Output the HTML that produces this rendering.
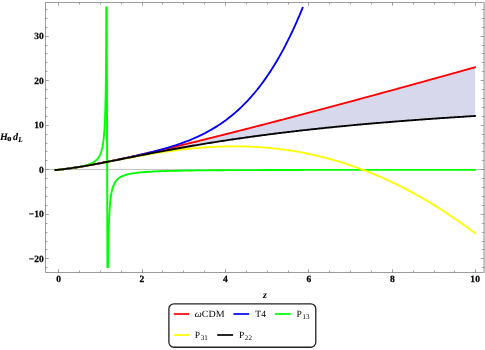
<!DOCTYPE html>
<html><head><meta charset="utf-8"><style>
html,body{margin:0;padding:0;background:#fff;}
svg{display:block;font-family:"Liberation Serif",serif;}
.t{filter:grayscale(1);}
text{text-rendering:geometricPrecision;}
</style></head><body>
<svg width="485" height="350" viewBox="0 0 485 350">
<rect width="485" height="350" fill="#fff"/>
<path d="M54.48 170.16 L56.59 169.96 L58.71 169.74 L60.82 169.51 L62.93 169.26 L65.05 169.00 L67.16 168.72 L69.28 168.43 L71.39 168.13 L73.50 167.82 L75.62 167.50 L77.73 167.17 L79.84 166.82 L81.96 166.47 L84.07 166.12 L86.19 165.75 L88.30 165.38 L90.41 165.00 L92.53 164.61 L94.64 164.22 L96.75 163.82 L98.87 163.42 L100.98 163.01 L103.10 162.60 L105.21 162.18 L107.32 161.76 L109.44 161.33 L111.55 160.90 L113.67 160.46 L115.78 160.03 L117.89 159.58 L120.01 159.14 L122.12 158.69 L124.23 158.24 L126.35 157.78 L128.46 157.32 L130.58 156.86 L132.69 156.40 L134.80 155.93 L136.92 155.47 L139.03 154.99 L141.14 154.52 L143.26 154.04 L145.37 153.57 L147.49 153.09 L149.60 152.60 L151.71 152.12 L153.83 151.63 L155.94 151.14 L158.05 150.65 L160.17 150.16 L162.28 149.67 L164.40 149.17 L166.51 148.68 L168.62 148.18 L170.74 147.68 L172.85 147.17 L174.97 146.67 L177.08 146.17 L179.19 145.66 L181.31 145.15 L183.42 144.64 L185.53 144.13 L187.65 143.62 L189.76 143.11 L191.88 142.59 L193.99 142.07 L196.10 141.56 L198.22 141.04 L200.33 140.52 L202.44 140.00 L204.56 139.48 L206.67 138.95 L208.79 138.43 L210.90 137.91 L213.01 137.38 L215.13 136.85 L217.24 136.32 L219.36 135.80 L221.47 135.26 L223.58 134.73 L225.70 134.20 L227.81 133.67 L229.92 133.13 L232.04 132.60 L234.15 132.06 L236.27 131.53 L238.38 130.99 L240.49 130.45 L242.61 129.91 L244.72 129.37 L246.83 128.83 L248.95 128.29 L251.06 127.75 L253.18 127.21 L255.29 126.66 L257.40 126.12 L259.52 125.57 L261.63 125.03 L263.74 124.48 L265.86 123.93 L267.97 123.38 L270.09 122.83 L272.20 122.28 L274.31 121.73 L276.43 121.18 L278.54 120.63 L280.66 120.08 L282.77 119.53 L284.88 118.97 L287.00 118.42 L289.11 117.86 L291.22 117.31 L293.34 116.75 L295.45 116.20 L297.57 115.64 L299.68 115.08 L301.79 114.52 L303.91 113.96 L306.02 113.40 L308.13 112.84 L310.25 112.28 L312.36 111.72 L314.48 111.16 L316.59 110.60 L318.70 110.04 L320.82 109.47 L322.93 108.91 L325.04 108.34 L327.16 107.78 L329.27 107.21 L331.39 106.65 L333.50 106.08 L335.61 105.52 L337.73 104.95 L339.84 104.38 L341.96 103.81 L344.07 103.24 L346.18 102.67 L348.30 102.11 L350.41 101.54 L352.52 100.96 L354.64 100.39 L356.75 99.82 L358.87 99.25 L360.98 98.68 L363.09 98.11 L365.21 97.53 L367.32 96.96 L369.43 96.39 L371.55 95.81 L373.66 95.24 L375.78 94.66 L377.89 94.09 L380.00 93.51 L382.12 92.93 L384.23 92.36 L386.34 91.78 L388.46 91.20 L390.57 90.63 L392.69 90.05 L394.80 89.47 L396.91 88.89 L399.03 88.31 L401.14 87.73 L403.26 87.15 L405.37 86.57 L407.48 85.99 L409.60 85.41 L411.71 84.83 L413.82 84.25 L415.94 83.66 L418.05 83.08 L420.17 82.50 L422.28 81.92 L424.39 81.33 L426.51 80.75 L428.62 80.16 L430.73 79.58 L432.85 79.00 L434.96 78.41 L437.08 77.83 L439.19 77.24 L441.30 76.65 L443.42 76.07 L445.53 75.48 L447.65 74.89 L449.76 74.31 L451.87 73.72 L453.99 73.13 L456.10 72.54 L458.21 71.96 L460.33 71.37 L462.44 70.78 L464.56 70.19 L466.67 69.60 L468.78 69.01 L470.90 68.42 L473.01 67.83 L475.12 67.24 L475.12 115.97 L473.01 116.10 L470.90 116.23 L468.78 116.36 L466.67 116.49 L464.56 116.62 L462.44 116.76 L460.33 116.89 L458.21 117.03 L456.10 117.17 L453.99 117.30 L451.87 117.44 L449.76 117.58 L447.65 117.72 L445.53 117.86 L443.42 118.01 L441.30 118.15 L439.19 118.29 L437.08 118.44 L434.96 118.59 L432.85 118.73 L430.73 118.88 L428.62 119.03 L426.51 119.18 L424.39 119.34 L422.28 119.49 L420.17 119.64 L418.05 119.80 L415.94 119.95 L413.82 120.11 L411.71 120.27 L409.60 120.43 L407.48 120.59 L405.37 120.75 L403.26 120.92 L401.14 121.08 L399.03 121.25 L396.91 121.42 L394.80 121.58 L392.69 121.75 L390.57 121.92 L388.46 122.10 L386.34 122.27 L384.23 122.44 L382.12 122.62 L380.00 122.80 L377.89 122.98 L375.78 123.16 L373.66 123.34 L371.55 123.52 L369.43 123.71 L367.32 123.89 L365.21 124.08 L363.09 124.27 L360.98 124.46 L358.87 124.65 L356.75 124.84 L354.64 125.04 L352.52 125.23 L350.41 125.43 L348.30 125.63 L346.18 125.83 L344.07 126.03 L341.96 126.24 L339.84 126.44 L337.73 126.65 L335.61 126.86 L333.50 127.07 L331.39 127.28 L329.27 127.50 L327.16 127.71 L325.04 127.93 L322.93 128.15 L320.82 128.37 L318.70 128.59 L316.59 128.82 L314.48 129.05 L312.36 129.27 L310.25 129.50 L308.13 129.74 L306.02 129.97 L303.91 130.21 L301.79 130.44 L299.68 130.68 L297.57 130.92 L295.45 131.17 L293.34 131.41 L291.22 131.66 L289.11 131.91 L287.00 132.16 L284.88 132.42 L282.77 132.67 L280.66 132.93 L278.54 133.19 L276.43 133.45 L274.31 133.72 L272.20 133.98 L270.09 134.25 L267.97 134.52 L265.86 134.80 L263.74 135.07 L261.63 135.35 L259.52 135.63 L257.40 135.91 L255.29 136.20 L253.18 136.49 L251.06 136.78 L248.95 137.07 L246.83 137.36 L244.72 137.66 L242.61 137.96 L240.49 138.26 L238.38 138.56 L236.27 138.87 L234.15 139.18 L232.04 139.49 L229.92 139.80 L227.81 140.12 L225.70 140.44 L223.58 140.76 L221.47 141.09 L219.36 141.41 L217.24 141.74 L215.13 142.07 L213.01 142.41 L210.90 142.75 L208.79 143.09 L206.67 143.43 L204.56 143.77 L202.44 144.12 L200.33 144.47 L198.22 144.82 L196.10 145.18 L193.99 145.53 L191.88 145.90 L189.76 146.26 L187.65 146.62 L185.53 146.99 L183.42 147.36 L181.31 147.73 L179.19 148.11 L177.08 148.49 L174.97 148.87 L172.85 149.25 L170.74 149.63 L168.62 150.02 L166.51 150.41 L164.40 150.80 L162.28 151.20 L160.17 151.59 L158.05 151.99 L155.94 152.39 L153.83 152.79 L151.71 153.19 L149.60 153.60 L147.49 154.01 L145.37 154.41 L143.26 154.82 L141.14 155.23 L139.03 155.65 L136.92 156.06 L134.80 156.47 L132.69 156.89 L130.58 157.30 L128.46 157.72 L126.35 158.14 L124.23 158.55 L122.12 158.97 L120.01 159.38 L117.89 159.80 L115.78 160.21 L113.67 160.63 L111.55 161.04 L109.44 161.45 L107.32 161.86 L105.21 162.26 L103.10 162.67 L100.98 163.07 L98.87 163.47 L96.75 163.86 L94.64 164.25 L92.53 164.63 L90.41 165.02 L88.30 165.39 L86.19 165.76 L84.07 166.12 L81.96 166.48 L79.84 166.83 L77.73 167.17 L75.62 167.50 L73.50 167.82 L71.39 168.13 L69.28 168.43 L67.16 168.72 L65.05 169.00 L62.93 169.26 L60.82 169.51 L58.71 169.74 L56.59 169.96 L54.48 170.16 Z" fill="#d8d8ec" stroke="none"/>
<path d="M45.5 169.45 H483.9" stroke="#808080" stroke-width="0.5" fill="none"/>
<g fill="none" stroke-width="1.85" stroke-linejoin="round">
<path d="M54.48 170.16 L55.89 170.03 L57.30 169.89 L58.71 169.74 L60.12 169.59 L61.53 169.43 L62.94 169.26 L64.34 169.09 L65.75 168.91 L67.16 168.72 L68.57 168.53 L69.98 168.33 L71.39 168.13 L72.80 167.92 L74.21 167.71 L75.62 167.50 L77.03 167.28 L78.44 167.05 L79.85 166.82 L81.26 166.59 L82.67 166.36 L84.08 166.12 L85.48 165.87 L86.89 165.63 L88.30 165.38 L89.71 165.13 L91.12 164.87 L92.53 164.61 L93.94 164.35 L95.35 164.09 L96.76 163.82 L98.17 163.55 L99.58 163.28 L100.99 163.01 L102.40 162.74 L103.81 162.46 L105.22 162.18 L106.63 161.90 L108.03 161.61 L109.44 161.33 L110.85 161.04 L112.26 160.75 L113.67 160.46 L115.08 160.17 L116.49 159.88 L117.90 159.58 L119.31 159.29 L120.72 158.99 L122.13 158.69 L123.54 158.39 L124.95 158.08 L126.36 157.78 L127.77 157.48 L129.17 157.17 L130.58 156.86 L131.99 156.55 L133.40 156.24 L134.81 155.93 L136.22 155.62 L137.63 155.31 L139.04 154.99 L140.45 154.68 L141.86 154.36 L143.27 154.04 L144.68 153.72 L146.09 153.40 L147.50 153.08 L148.91 152.76 L150.31 152.44 L151.72 152.12 L153.13 151.79 L154.54 151.47 L155.95 151.14 L157.36 150.82 L158.77 150.49 L160.18 150.16 L161.59 149.83 L163.00 149.50 L164.41 149.17 L165.82 148.84 L167.23 148.51 L168.64 148.17 L170.05 147.84 L171.46 147.51 L172.86 147.17 L174.27 146.84 L175.68 146.50 L177.09 146.16 L178.50 145.82 L179.91 145.49 L181.32 145.15 L182.73 144.81 L184.14 144.47 L185.55 144.13 L186.96 143.79 L188.37 143.44 L189.78 143.10 L191.19 142.76 L192.60 142.42 L194.00 142.07 L195.41 141.73 L196.82 141.38 L198.23 141.04 L199.64 140.69 L201.05 140.34 L202.46 140.00 L203.87 139.65 L205.28 139.30 L206.69 138.95 L208.10 138.60 L209.51 138.25 L210.92 137.90 L212.33 137.55 L213.74 137.20 L215.15 136.85 L216.55 136.50 L217.96 136.14 L219.37 135.79 L220.78 135.44 L222.19 135.08 L223.60 134.73 L225.01 134.37 L226.42 134.02 L227.83 133.66 L229.24 133.31 L230.65 132.95 L232.06 132.60 L233.47 132.24 L234.88 131.88 L236.29 131.52 L237.69 131.16 L239.10 130.81 L240.51 130.45 L241.92 130.09 L243.33 129.73 L244.74 129.37 L246.15 129.01 L247.56 128.65 L248.97 128.29 L250.38 127.92 L251.79 127.56 L253.20 127.20 L254.61 126.84 L256.02 126.47 L257.43 126.11 L258.83 125.75 L260.24 125.38 L261.65 125.02 L263.06 124.65 L264.47 124.29 L265.88 123.92 L267.29 123.56 L268.70 123.19 L270.11 122.83 L271.52 122.46 L272.93 122.09 L274.34 121.73 L275.75 121.36 L277.16 120.99 L278.57 120.62 L279.98 120.26 L281.38 119.89 L282.79 119.52 L284.20 119.15 L285.61 118.78 L287.02 118.41 L288.43 118.04 L289.84 117.67 L291.25 117.30 L292.66 116.93 L294.07 116.56 L295.48 116.19 L296.89 115.82 L298.30 115.45 L299.71 115.07 L301.12 114.70 L302.52 114.33 L303.93 113.96 L305.34 113.58 L306.75 113.21 L308.16 112.84 L309.57 112.46 L310.98 112.09 L312.39 111.71 L313.80 111.34 L315.21 110.97 L316.62 110.59 L318.03 110.22 L319.44 109.84 L320.85 109.46 L322.26 109.09 L323.67 108.71 L325.07 108.34 L326.48 107.96 L327.89 107.58 L329.30 107.21 L330.71 106.83 L332.12 106.45 L333.53 106.07 L334.94 105.70 L336.35 105.32 L337.76 104.94 L339.17 104.56 L340.58 104.18 L341.99 103.80 L343.40 103.42 L344.81 103.05 L346.21 102.67 L347.62 102.29 L349.03 101.91 L350.44 101.53 L351.85 101.15 L353.26 100.77 L354.67 100.38 L356.08 100.00 L357.49 99.62 L358.90 99.24 L360.31 98.86 L361.72 98.48 L363.13 98.10 L364.54 97.71 L365.95 97.33 L367.36 96.95 L368.76 96.57 L370.17 96.18 L371.58 95.80 L372.99 95.42 L374.40 95.04 L375.81 94.65 L377.22 94.27 L378.63 93.88 L380.04 93.50 L381.45 93.12 L382.86 92.73 L384.27 92.35 L385.68 91.96 L387.09 91.58 L388.50 91.19 L389.90 90.81 L391.31 90.42 L392.72 90.04 L394.13 89.65 L395.54 89.27 L396.95 88.88 L398.36 88.49 L399.77 88.11 L401.18 87.72 L402.59 87.33 L404.00 86.95 L405.41 86.56 L406.82 86.17 L408.23 85.79 L409.64 85.40 L411.04 85.01 L412.45 84.62 L413.86 84.24 L415.27 83.85 L416.68 83.46 L418.09 83.07 L419.50 82.68 L420.91 82.29 L422.32 81.90 L423.73 81.52 L425.14 81.13 L426.55 80.74 L427.96 80.35 L429.37 79.96 L430.78 79.57 L432.19 79.18 L433.59 78.79 L435.00 78.40 L436.41 78.01 L437.82 77.62 L439.23 77.23 L440.64 76.84 L442.05 76.45 L443.46 76.06 L444.87 75.66 L446.28 75.27 L447.69 74.88 L449.10 74.49 L450.51 74.10 L451.92 73.71 L453.33 73.32 L454.73 72.92 L456.14 72.53 L457.55 72.14 L458.96 71.75 L460.37 71.35 L461.78 70.96 L463.19 70.57 L464.60 70.18 L466.01 69.78 L467.42 69.39 L468.83 69.00 L470.24 68.60 L471.65 68.21 L473.06 67.82 L474.47 67.42 L475.88 67.03" stroke="#ff0000"/>
<path d="M54.48 170.16 L55.73 170.05 L56.98 169.92 L58.22 169.80 L59.47 169.66 L60.72 169.52 L61.97 169.38 L63.22 169.23 L64.47 169.07 L65.72 168.91 L66.96 168.75 L68.21 168.58 L69.46 168.41 L70.71 168.23 L71.96 168.05 L73.21 167.86 L74.45 167.68 L75.70 167.48 L76.95 167.29 L78.20 167.09 L79.45 166.89 L80.70 166.69 L81.94 166.48 L83.19 166.27 L84.44 166.06 L85.69 165.84 L86.94 165.63 L88.19 165.41 L89.44 165.19 L90.68 164.96 L91.93 164.74 L93.18 164.51 L94.43 164.28 L95.68 164.05 L96.93 163.82 L98.17 163.58 L99.42 163.35 L100.67 163.11 L101.92 162.87 L103.17 162.63 L104.42 162.39 L105.67 162.14 L106.91 161.90 L108.16 161.65 L109.41 161.40 L110.66 161.15 L111.91 160.90 L113.16 160.65 L114.40 160.40 L115.65 160.15 L116.90 159.89 L118.15 159.63 L119.40 159.38 L120.65 159.12 L121.90 158.86 L123.14 158.59 L124.39 158.33 L125.64 158.07 L126.89 157.80 L128.14 157.53 L129.39 157.26 L130.63 156.99 L131.88 156.72 L133.13 156.44 L134.38 156.17 L135.63 155.89 L136.88 155.61 L138.13 155.32 L139.37 155.04 L140.62 154.75 L141.87 154.46 L143.12 154.17 L144.37 153.88 L145.62 153.58 L146.86 153.28 L148.11 152.97 L149.36 152.67 L150.61 152.36 L151.86 152.05 L153.11 151.73 L154.36 151.41 L155.60 151.09 L156.85 150.76 L158.10 150.43 L159.35 150.09 L160.60 149.75 L161.85 149.41 L163.09 149.06 L164.34 148.70 L165.59 148.35 L166.84 147.98 L168.09 147.61 L169.34 147.23 L170.59 146.85 L171.83 146.47 L173.08 146.07 L174.33 145.67 L175.58 145.26 L176.83 144.85 L178.08 144.43 L179.32 144.00 L180.57 143.56 L181.82 143.12 L183.07 142.67 L184.32 142.21 L185.57 141.74 L186.81 141.26 L188.06 140.77 L189.31 140.28 L190.56 139.77 L191.81 139.25 L193.06 138.73 L194.31 138.19 L195.55 137.64 L196.80 137.08 L198.05 136.51 L199.30 135.93 L200.55 135.34 L201.80 134.73 L203.04 134.11 L204.29 133.48 L205.54 132.83 L206.79 132.17 L208.04 131.50 L209.29 130.81 L210.54 130.11 L211.78 129.39 L213.03 128.66 L214.28 127.91 L215.53 127.15 L216.78 126.36 L218.03 125.57 L219.27 124.75 L220.52 123.92 L221.77 123.07 L223.02 122.20 L224.27 121.31 L225.52 120.40 L226.77 119.48 L228.01 118.53 L229.26 117.56 L230.51 116.58 L231.76 115.57 L233.01 114.54 L234.26 113.48 L235.50 112.41 L236.75 111.31 L238.00 110.19 L239.25 109.04 L240.50 107.87 L241.75 106.68 L243.00 105.46 L244.24 104.21 L245.49 102.94 L246.74 101.64 L247.99 100.32 L249.24 98.96 L250.49 97.58 L251.73 96.17 L252.98 94.73 L254.23 93.26 L255.48 91.76 L256.73 90.23 L257.98 88.67 L259.23 87.08 L260.47 85.46 L261.72 83.80 L262.97 82.11 L264.22 80.38 L265.47 78.62 L266.72 76.83 L267.96 75.00 L269.21 73.14 L270.46 71.23 L271.71 69.30 L272.96 67.32 L274.21 65.30 L275.45 63.25 L276.70 61.16 L277.95 59.02 L279.20 56.85 L280.45 54.63 L281.70 52.38 L282.95 50.08 L284.19 47.74 L285.44 45.35 L286.69 42.92 L287.94 40.44 L289.19 37.92 L290.44 35.35 L291.68 32.74 L292.93 30.08 L294.18 27.37 L295.43 24.61 L296.68 21.80 L297.93 18.95 L299.18 16.04 L300.42 13.08 L301.67 10.06 L302.92 7.00" stroke="#0000ff"/>
<path d="M54.48 170.16 L55.77 170.04 L57.07 169.91 L58.36 169.78 L59.66 169.64 L60.95 169.49 L62.25 169.34 L63.54 169.19 L64.83 169.02 L66.13 168.86 L67.42 168.68 L68.72 168.51 L70.01 168.32 L71.31 168.13 L72.60 167.94 L73.90 167.74 L75.19 167.53 L76.48 167.31 L77.78 167.08 L79.07 166.84 L80.37 166.58 L81.66 166.32 L82.96 166.03 L84.25 165.72 L85.55 165.38 L86.84 165.01 L88.13 164.60 L89.43 164.14 L90.72 163.62 L92.02 163.02 L92.20 162.93 L92.38 162.84 L92.56 162.74 L92.74 162.65 L92.93 162.55 L93.11 162.44 L93.29 162.34 L93.47 162.23 L93.65 162.12 L93.84 162.01 L94.02 161.89 L94.20 161.77 L94.38 161.65 L94.56 161.52 L94.74 161.39 L94.93 161.26 L95.11 161.12 L95.29 160.98 L95.47 160.84 L95.65 160.69 L95.83 160.53 L96.02 160.37 L96.20 160.21 L96.38 160.04 L96.56 159.86 L96.74 159.68 L96.92 159.50 L97.11 159.30 L97.29 159.10 L97.47 158.89 L97.65 158.68 L97.83 158.45 L98.01 158.22 L98.20 157.97 L98.38 157.72 L98.56 157.46 L98.74 157.18 L98.92 156.90 L99.10 156.60 L99.29 156.28 L99.47 155.95 L99.65 155.61 L99.83 155.25 L100.01 154.87 L100.19 154.47 L100.38 154.04 L100.56 153.60 L100.74 153.13 L100.92 152.63 L101.10 152.10 L101.29 151.54 L101.47 150.94 L101.65 150.30 L101.83 149.62 L102.01 148.89 L102.19 148.10 L102.38 147.25 L102.56 146.33 L102.74 145.34 L102.92 144.25 L103.10 143.07 L103.28 141.77 L103.47 140.34 L103.65 138.75 L103.83 136.99 L104.01 135.01 L104.19 132.77 L104.37 130.23 L104.56 127.31 L104.74 123.93 L104.92 119.96 L105.10 115.24 L105.28 109.52 L105.46 102.47 L105.65 93.53 L105.83 81.86 L106.01 65.95 L106.19 43.00 L106.37 7.00" stroke="#00ff00"/><path d="M106.70 6.40 L107.45 267.90" stroke="#00ff00" stroke-width="2"/><path d="M108.07 267.50 L108.42 243.53 L108.76 228.98 L109.10 219.20 L109.45 212.19 L109.79 206.91 L110.13 202.79 L110.48 199.48 L110.82 196.77 L111.16 194.51 L111.51 192.59 L111.85 190.95 L112.19 189.52 L112.54 188.27 L112.88 187.16 L113.22 186.18 L113.57 185.30 L113.91 184.51 L114.25 183.79 L114.60 183.14 L114.94 182.54 L115.28 181.99 L115.63 181.49 L115.97 181.02 L116.31 180.59 L116.66 180.19 L117.00 179.81 L117.34 179.46 L117.69 179.14 L118.03 178.83 L118.37 178.54 L118.72 178.27 L119.06 178.01 L119.40 177.77 L119.75 177.54 L120.09 177.32 L120.43 177.12 L120.78 176.92 L121.12 176.74 L121.47 176.56 L121.81 176.39 L122.15 176.23 L122.50 176.07 L122.84 175.92 L123.18 175.78 L123.53 175.64 L123.87 175.51 L124.21 175.39 L124.56 175.27 L124.90 175.15 L125.24 175.04 L125.59 174.93 L125.93 174.83 L126.27 174.73 L126.62 174.63 L126.96 174.54 L127.30 174.45 L127.65 174.36 L127.99 174.28 L128.33 174.20 L128.68 174.12 L129.02 174.04 L129.36 173.97 L129.71 173.89 L130.05 173.82 L130.39 173.76 L130.74 173.69 L131.08 173.62 L131.42 173.56 L131.77 173.50 L132.11 173.44 L132.45 173.39 L132.80 173.33 L133.14 173.28 L133.48 173.22 L133.83 173.17 L134.17 173.12 L134.51 173.07 L134.86 173.02 L135.20 172.98 L135.55 172.93 L135.89 172.89 L136.23 172.84 L136.58 172.80 L136.92 172.76 L137.26 172.72 L137.61 172.68 L137.95 172.64 L138.29 172.60 L138.64 172.57 L138.98 172.53 L139.32 172.49 L139.67 172.46 L140.01 172.43 L140.35 172.39 L140.70 172.36 L141.04 172.33 L141.38 172.30 L141.73 172.27 L142.07 172.24 L145.44 171.97 L148.81 171.75 L152.19 171.56 L155.56 171.40 L158.93 171.26 L162.30 171.13 L165.67 171.03 L169.04 170.93 L172.42 170.85 L175.79 170.77 L179.16 170.71 L182.53 170.65 L185.90 170.59 L189.27 170.54 L192.65 170.49 L196.02 170.45 L199.39 170.41 L202.76 170.38 L206.13 170.35 L209.51 170.32 L212.88 170.29 L216.25 170.26 L219.62 170.24 L222.99 170.22 L226.36 170.20 L229.74 170.18 L233.11 170.16 L236.48 170.14 L239.85 170.13 L243.22 170.11 L246.59 170.10 L249.97 170.08 L253.34 170.07 L256.71 170.06 L260.08 170.05 L263.45 170.04 L266.83 170.03 L270.20 170.02 L273.57 170.01 L276.94 170.00 L280.31 169.99 L283.68 169.98 L287.06 169.98 L290.43 169.97 L293.80 169.96 L297.17 169.96 L300.54 169.95 L303.91 169.94 L307.29 169.94 L310.66 169.93 L314.03 169.93 L317.40 169.92 L320.77 169.92 L324.15 169.91 L327.52 169.91 L330.89 169.90 L334.26 169.90 L337.63 169.90 L341.00 169.89 L344.38 169.89 L347.75 169.89 L351.12 169.88 L354.49 169.88 L357.86 169.88 L361.23 169.87 L364.61 169.87 L367.98 169.87 L371.35 169.87 L374.72 169.86 L378.09 169.86 L381.47 169.86 L384.84 169.86 L388.21 169.85 L391.58 169.85 L394.95 169.85 L398.32 169.85 L401.70 169.84 L405.07 169.84 L408.44 169.84 L411.81 169.84 L415.18 169.84 L418.56 169.84 L421.93 169.83 L425.30 169.83 L428.67 169.83 L432.04 169.83 L435.41 169.83 L438.79 169.83 L442.16 169.82 L445.53 169.82 L448.90 169.82 L452.27 169.82 L455.64 169.82 L459.02 169.82 L462.39 169.82 L465.76 169.82 L469.13 169.81 L472.50 169.81 L475.88 169.81" stroke="#00ff00"/>
<path d="M54.48 170.16 L55.89 170.03 L57.30 169.89 L58.71 169.74 L60.12 169.59 L61.53 169.43 L62.94 169.26 L64.34 169.09 L65.75 168.91 L67.16 168.72 L68.57 168.53 L69.98 168.33 L71.39 168.13 L72.80 167.92 L74.21 167.71 L75.62 167.50 L77.03 167.28 L78.44 167.05 L79.85 166.83 L81.26 166.60 L82.67 166.36 L84.08 166.12 L85.48 165.88 L86.89 165.64 L88.30 165.39 L89.71 165.15 L91.12 164.89 L92.53 164.64 L93.94 164.39 L95.35 164.13 L96.76 163.87 L98.17 163.61 L99.58 163.35 L100.99 163.09 L102.40 162.82 L103.81 162.56 L105.22 162.29 L106.63 162.03 L108.03 161.76 L109.44 161.49 L110.85 161.23 L112.26 160.96 L113.67 160.69 L115.08 160.42 L116.49 160.16 L117.90 159.89 L119.31 159.62 L120.72 159.36 L122.13 159.09 L123.54 158.83 L124.95 158.56 L126.36 158.30 L127.77 158.04 L129.17 157.78 L130.58 157.52 L131.99 157.26 L133.40 157.00 L134.81 156.74 L136.22 156.49 L137.63 156.24 L139.04 155.99 L140.45 155.74 L141.86 155.49 L143.27 155.25 L144.68 155.00 L146.09 154.76 L147.50 154.52 L148.91 154.29 L150.31 154.05 L151.72 153.82 L153.13 153.59 L154.54 153.36 L155.95 153.14 L157.36 152.92 L158.77 152.70 L160.18 152.48 L161.59 152.27 L163.00 152.06 L164.41 151.85 L165.82 151.65 L167.23 151.45 L168.64 151.25 L170.05 151.05 L171.46 150.86 L172.86 150.67 L174.27 150.49 L175.68 150.31 L177.09 150.13 L178.50 149.95 L179.91 149.78 L181.32 149.62 L182.73 149.45 L184.14 149.29 L185.55 149.14 L186.96 148.98 L188.37 148.84 L189.78 148.69 L191.19 148.55 L192.60 148.41 L194.00 148.28 L195.41 148.15 L196.82 148.03 L198.23 147.91 L199.64 147.79 L201.05 147.68 L202.46 147.57 L203.87 147.47 L205.28 147.37 L206.69 147.27 L208.10 147.18 L209.51 147.10 L210.92 147.02 L212.33 146.94 L213.74 146.87 L215.15 146.80 L216.55 146.74 L217.96 146.68 L219.37 146.62 L220.78 146.58 L222.19 146.53 L223.60 146.49 L225.01 146.46 L226.42 146.43 L227.83 146.40 L229.24 146.38 L230.65 146.37 L232.06 146.36 L233.47 146.35 L234.88 146.35 L236.29 146.36 L237.69 146.37 L239.10 146.38 L240.51 146.40 L241.92 146.43 L243.33 146.46 L244.74 146.49 L246.15 146.53 L247.56 146.58 L248.97 146.63 L250.38 146.68 L251.79 146.75 L253.20 146.81 L254.61 146.89 L256.02 146.96 L257.43 147.05 L258.83 147.13 L260.24 147.23 L261.65 147.33 L263.06 147.43 L264.47 147.54 L265.88 147.66 L267.29 147.78 L268.70 147.91 L270.11 148.04 L271.52 148.18 L272.93 148.32 L274.34 148.47 L275.75 148.63 L277.16 148.79 L278.57 148.95 L279.98 149.12 L281.38 149.30 L282.79 149.49 L284.20 149.67 L285.61 149.87 L287.02 150.07 L288.43 150.28 L289.84 150.49 L291.25 150.71 L292.66 150.93 L294.07 151.16 L295.48 151.40 L296.89 151.64 L298.30 151.89 L299.71 152.14 L301.12 152.40 L302.52 152.66 L303.93 152.93 L305.34 153.21 L306.75 153.50 L308.16 153.78 L309.57 154.08 L310.98 154.38 L312.39 154.69 L313.80 155.00 L315.21 155.32 L316.62 155.65 L318.03 155.98 L319.44 156.32 L320.85 156.66 L322.26 157.01 L323.67 157.37 L325.07 157.73 L326.48 158.10 L327.89 158.47 L329.30 158.85 L330.71 159.24 L332.12 159.63 L333.53 160.03 L334.94 160.44 L336.35 160.85 L337.76 161.27 L339.17 161.69 L340.58 162.12 L341.99 162.56 L343.40 163.00 L344.81 163.45 L346.21 163.91 L347.62 164.37 L349.03 164.84 L350.44 165.31 L351.85 165.79 L353.26 166.28 L354.67 166.78 L356.08 167.28 L357.49 167.78 L358.90 168.30 L360.31 168.82 L361.72 169.34 L363.13 169.87 L364.54 170.41 L365.95 170.96 L367.36 171.51 L368.76 172.07 L370.17 172.63 L371.58 173.20 L372.99 173.78 L374.40 174.37 L375.81 174.96 L377.22 175.55 L378.63 176.16 L380.04 176.77 L381.45 177.38 L382.86 178.01 L384.27 178.64 L385.68 179.27 L387.09 179.92 L388.50 180.57 L389.90 181.22 L391.31 181.89 L392.72 182.55 L394.13 183.23 L395.54 183.91 L396.95 184.60 L398.36 185.30 L399.77 186.00 L401.18 186.71 L402.59 187.42 L404.00 188.15 L405.41 188.88 L406.82 189.61 L408.23 190.35 L409.64 191.10 L411.04 191.86 L412.45 192.62 L413.86 193.39 L415.27 194.16 L416.68 194.95 L418.09 195.74 L419.50 196.53 L420.91 197.33 L422.32 198.14 L423.73 198.96 L425.14 199.78 L426.55 200.61 L427.96 201.45 L429.37 202.29 L430.78 203.14 L432.19 204.00 L433.59 204.86 L435.00 205.73 L436.41 206.61 L437.82 207.49 L439.23 208.38 L440.64 209.28 L442.05 210.18 L443.46 211.09 L444.87 212.01 L446.28 212.93 L447.69 213.86 L449.10 214.80 L450.51 215.75 L451.92 216.70 L453.33 217.66 L454.73 218.62 L456.14 219.59 L457.55 220.57 L458.96 221.56 L460.37 222.55 L461.78 223.55 L463.19 224.56 L464.60 225.57 L466.01 226.59 L467.42 227.62 L468.83 228.65 L470.24 229.69 L471.65 230.74 L473.06 231.80 L474.47 232.86 L475.88 233.92" stroke="#ffff00"/>
<path d="M54.48 170.16 L55.89 170.03 L57.30 169.89 L58.71 169.74 L60.12 169.59 L61.53 169.43 L62.94 169.26 L64.34 169.09 L65.75 168.91 L67.16 168.72 L68.57 168.53 L69.98 168.33 L71.39 168.13 L72.80 167.92 L74.21 167.71 L75.62 167.50 L77.03 167.28 L78.44 167.05 L79.85 166.83 L81.26 166.59 L82.67 166.36 L84.08 166.12 L85.48 165.88 L86.89 165.64 L88.30 165.39 L89.71 165.14 L91.12 164.89 L92.53 164.63 L93.94 164.38 L95.35 164.12 L96.76 163.86 L98.17 163.60 L99.58 163.33 L100.99 163.07 L102.40 162.80 L103.81 162.53 L105.22 162.26 L106.63 161.99 L108.03 161.72 L109.44 161.45 L110.85 161.17 L112.26 160.90 L113.67 160.62 L115.08 160.35 L116.49 160.07 L117.90 159.80 L119.31 159.52 L120.72 159.24 L122.13 158.97 L123.54 158.69 L124.95 158.41 L126.36 158.13 L127.77 157.86 L129.17 157.58 L130.58 157.30 L131.99 157.02 L133.40 156.75 L134.81 156.47 L136.22 156.20 L137.63 155.92 L139.04 155.64 L140.45 155.37 L141.86 155.10 L143.27 154.82 L144.68 154.55 L146.09 154.28 L147.50 154.00 L148.91 153.73 L150.31 153.46 L151.72 153.19 L153.13 152.92 L154.54 152.65 L155.95 152.39 L157.36 152.12 L158.77 151.85 L160.18 151.59 L161.59 151.33 L163.00 151.06 L164.41 150.80 L165.82 150.54 L167.23 150.28 L168.64 150.02 L170.05 149.76 L171.46 149.50 L172.86 149.25 L174.27 148.99 L175.68 148.74 L177.09 148.48 L178.50 148.23 L179.91 147.98 L181.32 147.73 L182.73 147.48 L184.14 147.24 L185.55 146.99 L186.96 146.74 L188.37 146.50 L189.78 146.26 L191.19 146.01 L192.60 145.77 L194.00 145.53 L195.41 145.29 L196.82 145.06 L198.23 144.82 L199.64 144.58 L201.05 144.35 L202.46 144.12 L203.87 143.89 L205.28 143.65 L206.69 143.42 L208.10 143.20 L209.51 142.97 L210.92 142.74 L212.33 142.52 L213.74 142.29 L215.15 142.07 L216.55 141.85 L217.96 141.63 L219.37 141.41 L220.78 141.19 L222.19 140.98 L223.60 140.76 L225.01 140.54 L226.42 140.33 L227.83 140.12 L229.24 139.91 L230.65 139.70 L232.06 139.49 L233.47 139.28 L234.88 139.07 L236.29 138.87 L237.69 138.66 L239.10 138.46 L240.51 138.26 L241.92 138.06 L243.33 137.86 L244.74 137.66 L246.15 137.46 L247.56 137.26 L248.97 137.06 L250.38 136.87 L251.79 136.68 L253.20 136.48 L254.61 136.29 L256.02 136.10 L257.43 135.91 L258.83 135.72 L260.24 135.54 L261.65 135.35 L263.06 135.16 L264.47 134.98 L265.88 134.80 L267.29 134.61 L268.70 134.43 L270.11 134.25 L271.52 134.07 L272.93 133.89 L274.34 133.72 L275.75 133.54 L277.16 133.36 L278.57 133.19 L279.98 133.01 L281.38 132.84 L282.79 132.67 L284.20 132.50 L285.61 132.33 L287.02 132.16 L288.43 131.99 L289.84 131.82 L291.25 131.66 L292.66 131.49 L294.07 131.33 L295.48 131.17 L296.89 131.00 L298.30 130.84 L299.71 130.68 L301.12 130.52 L302.52 130.36 L303.93 130.20 L305.34 130.05 L306.75 129.89 L308.16 129.73 L309.57 129.58 L310.98 129.42 L312.39 129.27 L313.80 129.12 L315.21 128.97 L316.62 128.82 L318.03 128.67 L319.44 128.52 L320.85 128.37 L322.26 128.22 L323.67 128.07 L325.07 127.93 L326.48 127.78 L327.89 127.64 L329.30 127.49 L330.71 127.35 L332.12 127.21 L333.53 127.07 L334.94 126.93 L336.35 126.79 L337.76 126.65 L339.17 126.51 L340.58 126.37 L341.99 126.24 L343.40 126.10 L344.81 125.96 L346.21 125.83 L347.62 125.70 L349.03 125.56 L350.44 125.43 L351.85 125.30 L353.26 125.17 L354.67 125.04 L356.08 124.91 L357.49 124.78 L358.90 124.65 L360.31 124.52 L361.72 124.39 L363.13 124.27 L364.54 124.14 L365.95 124.01 L367.36 123.89 L368.76 123.77 L370.17 123.64 L371.58 123.52 L372.99 123.40 L374.40 123.28 L375.81 123.15 L377.22 123.03 L378.63 122.91 L380.04 122.80 L381.45 122.68 L382.86 122.56 L384.27 122.44 L385.68 122.33 L387.09 122.21 L388.50 122.09 L389.90 121.98 L391.31 121.86 L392.72 121.75 L394.13 121.64 L395.54 121.52 L396.95 121.41 L398.36 121.30 L399.77 121.19 L401.18 121.08 L402.59 120.97 L404.00 120.86 L405.41 120.75 L406.82 120.64 L408.23 120.53 L409.64 120.43 L411.04 120.32 L412.45 120.21 L413.86 120.11 L415.27 120.00 L416.68 119.90 L418.09 119.80 L419.50 119.69 L420.91 119.59 L422.32 119.49 L423.73 119.38 L425.14 119.28 L426.55 119.18 L427.96 119.08 L429.37 118.98 L430.78 118.88 L432.19 118.78 L433.59 118.68 L435.00 118.58 L436.41 118.49 L437.82 118.39 L439.23 118.29 L440.64 118.19 L442.05 118.10 L443.46 118.00 L444.87 117.91 L446.28 117.81 L447.69 117.72 L449.10 117.63 L450.51 117.53 L451.92 117.44 L453.33 117.35 L454.73 117.25 L456.14 117.16 L457.55 117.07 L458.96 116.98 L460.37 116.89 L461.78 116.80 L463.19 116.71 L464.60 116.62 L466.01 116.53 L467.42 116.44 L468.83 116.36 L470.24 116.27 L471.65 116.18 L473.06 116.10 L474.47 116.01 L475.88 115.92" stroke="#000000"/>
</g>
<path d="M483.9 2.5H45.5V272.5H483.9" fill="none" stroke="#666" stroke-width="0.65"/>
<rect x="483.25" y="2.2" width="1.75" height="270.5" fill="#bcbcbc"/>
<path d="M58.50 272.50v-3.30M58.50 2.50v3.30M79.50 272.50v-2.00M79.50 2.50v2.00M100.50 272.50v-2.00M100.50 2.50v2.00M121.50 272.50v-2.00M121.50 2.50v2.00M142.50 272.50v-3.30M142.50 2.50v3.30M162.50 272.50v-2.00M162.50 2.50v2.00M183.50 272.50v-2.00M183.50 2.50v2.00M204.50 272.50v-2.00M204.50 2.50v2.00M225.50 272.50v-3.30M225.50 2.50v3.30M246.50 272.50v-2.00M246.50 2.50v2.00M267.50 272.50v-2.00M267.50 2.50v2.00M288.50 272.50v-2.00M288.50 2.50v2.00M308.50 272.50v-3.30M308.50 2.50v3.30M329.50 272.50v-2.00M329.50 2.50v2.00M350.50 272.50v-2.00M350.50 2.50v2.00M371.50 272.50v-2.00M371.50 2.50v2.00M392.50 272.50v-3.30M392.50 2.50v3.30M413.50 272.50v-2.00M413.50 2.50v2.00M434.50 272.50v-2.00M434.50 2.50v2.00M454.50 272.50v-2.00M454.50 2.50v2.00M475.50 272.50v-3.30M475.50 2.50v3.30M45.50 267.50h2.00M483.90 267.50h-2.00M45.50 258.50h3.30M483.90 258.50h-3.30M45.50 249.50h2.00M483.90 249.50h-2.00M45.50 241.50h2.00M483.90 241.50h-2.00M45.50 232.50h2.00M483.90 232.50h-2.00M45.50 223.50h2.00M483.90 223.50h-2.00M45.50 214.50h3.30M483.90 214.50h-3.30M45.50 205.50h2.00M483.90 205.50h-2.00M45.50 196.50h2.00M483.90 196.50h-2.00M45.50 187.50h2.00M483.90 187.50h-2.00M45.50 178.50h2.00M483.90 178.50h-2.00M45.50 169.50h3.30M483.90 169.50h-3.30M45.50 160.50h2.00M483.90 160.50h-2.00M45.50 151.50h2.00M483.90 151.50h-2.00M45.50 143.50h2.00M483.90 143.50h-2.00M45.50 134.50h2.00M483.90 134.50h-2.00M45.50 125.50h3.30M483.90 125.50h-3.30M45.50 116.50h2.00M483.90 116.50h-2.00M45.50 107.50h2.00M483.90 107.50h-2.00M45.50 98.50h2.00M483.90 98.50h-2.00M45.50 89.50h2.00M483.90 89.50h-2.00M45.50 80.50h3.30M483.90 80.50h-3.30M45.50 71.50h2.00M483.90 71.50h-2.00M45.50 62.50h2.00M483.90 62.50h-2.00M45.50 53.50h2.00M483.90 53.50h-2.00M45.50 45.50h2.00M483.90 45.50h-2.00M45.50 36.50h3.30M483.90 36.50h-3.30M45.50 27.50h2.00M483.90 27.50h-2.00M45.50 18.50h2.00M483.90 18.50h-2.00M45.50 9.50h2.00M483.90 9.50h-2.00" stroke="#707070" stroke-width="0.65" fill="none"/>
<rect x="168.9" y="303.85" width="146.9" height="43.4" rx="5" ry="5" fill="#fff" stroke="#222" stroke-width="1.3"/>
<g stroke-width="1.7" fill="none">
<path d="M173.8 314H189.2" stroke="#ff0000"/>
<path d="M233.4 314H249.2" stroke="#0000ff"/>
<path d="M274.9 314H290.8" stroke="#00ff00"/>
<path d="M173.8 335H189.2" stroke="#ffff00"/>
<path d="M217.2 335H233.1" stroke="#000"/>
</g>
<g class="t">
<g font-size="9.5" font-weight="bold" fill="#000" letter-spacing="0.15" stroke="#000" stroke-width="0.25"><text x="58.65" y="282.3" text-anchor="middle">0</text><text x="142.07" y="282.3" text-anchor="middle">2</text><text x="225.49" y="282.3" text-anchor="middle">4</text><text x="308.91" y="282.3" text-anchor="middle">6</text><text x="392.33" y="282.3" text-anchor="middle">8</text><text x="475.25" y="282.3" text-anchor="middle">10</text><text x="44.0" y="261.95" text-anchor="end">−20</text><text x="44.0" y="217.40" text-anchor="end">−10</text><text x="44.0" y="172.85" text-anchor="end">0</text><text x="44.0" y="128.30" text-anchor="end">10</text><text x="44.0" y="83.75" text-anchor="end">20</text><text x="44.0" y="39.20" text-anchor="end">30</text></g>
<g font-weight="bold" font-style="italic" stroke="#000" stroke-width="0.1"><text x="0" y="139.9" font-size="10">H</text><text transform="translate(7.2,141.2) scale(1.3,1)" font-size="6.4" font-style="normal" stroke-width="0.2">0</text><text x="12.9" y="139.9" font-size="10">d</text><text x="18.2" y="141.9" font-size="7.2">L</text></g>
<text x="265.0" y="297.8" font-size="10" font-style="italic" font-weight="bold" text-anchor="middle">z</text>
<g font-size="9.6" fill="#000">
<text x="194.7" y="317" textLength="29.9" lengthAdjust="spacingAndGlyphs"><tspan font-style="italic">ω</tspan>CDM</text>
<text x="255.3" y="317">T4</text>
<text x="296.5" y="317">P<tspan font-size="7.1" dy="2.3" dx="0.6">13</tspan></text>
<text x="194.7" y="337.5">P<tspan font-size="7.1" dy="2.3" dx="0.6">31</tspan></text>
<text x="238.9" y="337.5">P<tspan font-size="7.1" dy="2.3" dx="0.6">22</tspan></text>
</g>
</g>
</svg>
</body></html>
